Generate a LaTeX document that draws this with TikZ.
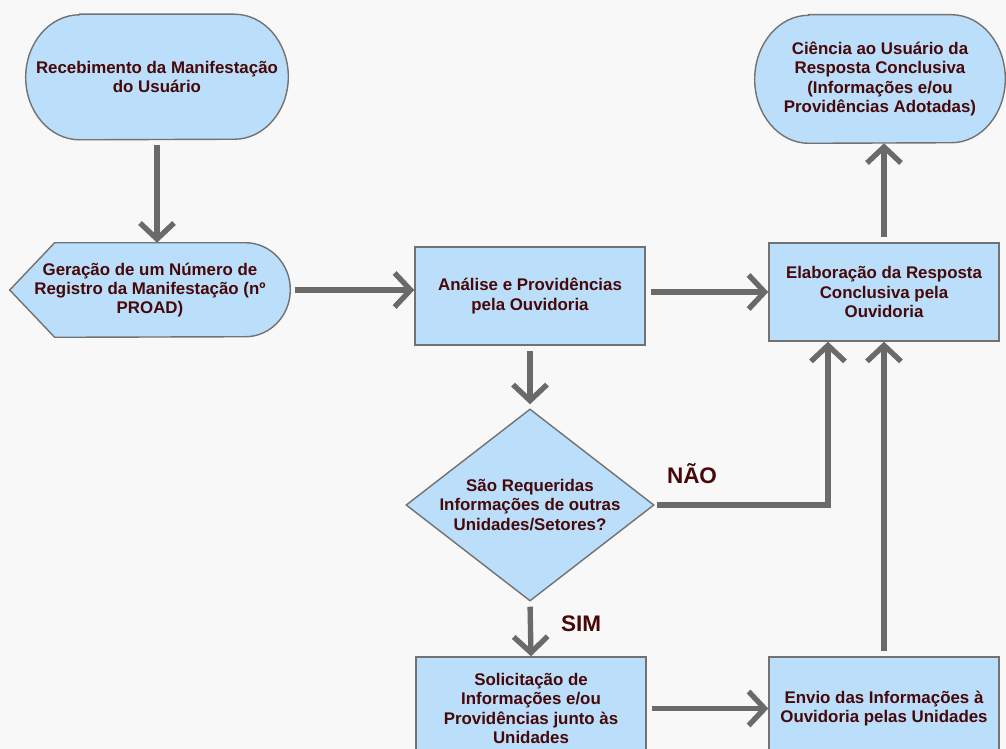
\documentclass[tikz,border=0pt]{standalone}
\usepackage{fontspec}
\setmainfont{Liberation Sans}
\usepackage{tikz}
\usetikzlibrary{arrows.meta,shapes.geometric,backgrounds}

\definecolor{fundo}{HTML}{F8F8F8}
\definecolor{azul}{HTML}{BBDEFB}
\definecolor{borda}{HTML}{727272}
\definecolor{cinza}{HTML}{6A6A6A}
\definecolor{texto}{RGB}{70,8,8}

\begin{document}
\begin{tikzpicture} [x = 0.025cm, y = 0.025cm,
    txt/.style = {align = center, text = texto, inner sep = 0pt,
      font = \bfseries\fontsize{12}{13.6}\selectfont},
    caixa/.style = {txt, rectangle, draw = borda, fill = azul, line width = 1pt,
      minimum width = 5.75cm},
    forma/.style = {txt, draw = none},
    contorno/.style = {draw = borda, fill = azul, line width = 1pt},
    losango/.style = {txt, diamond, draw = borda, fill = azul, line width = 1pt,
      aspect = 1.3, minimum width = 6.2cm, minimum height = 4.8cm},
    seta/.style = {draw = cinza, line width = 3.8pt, shorten < = 0.125cm,
      -{Straight Barb[length = 0.4cm, width = 0.85cm]}},
    rotulo/.style = {text = texto, inner sep = 0pt,
      font = \bfseries\fontsize{16}{18}\selectfont}]

  \useasboundingbox (0,0) rectangle (1006,-749);
  \begin{scope}[on background layer]
    \fill[fundo] (0,0) rectangle (1006,-749);
  \end{scope}

  % nodes
  \node[forma, minimum width = 6.55cm, minimum height = 3.125cm] (inicio) at (157,-77)
    {Recebimento da Manifestação\\do Usuário};
  \node[forma, minimum width = 7cm, minimum height = 2.35cm] (registro) at (150,-290)
    {Geração de um Número de\\Registro da Manifestação (nº\\PROAD)};
  \node[caixa, minimum height = 2.45cm] (analise) at (530,-296)
    {Análise e Providências\\pela Ouvidoria};
  \node[caixa, minimum height = 2.45cm] (elaboracao) at (884,-292)
    {Elaboração da Resposta\\Conclusiva pela\\Ouvidoria};
  \node[forma, minimum width = 6.25cm, minimum height = 3.2cm] (ciencia) at (880,-79)
    {Ciência ao Usuário da\\Resposta Conclusiva\\(Informações e/ou\\Providências Adotadas)};
  \node[losango] (decisao) at (530,-505)
    {São Requeridas\\Informações de outras\\Unidades/Setores?};
  \node[caixa, minimum height = 2.575cm] (solicitacao) at (531,-708.5)
    {Solicitação de\\Informações e/ou\\Providências junto às\\Unidades};
  \node[caixa, minimum height = 2.575cm] (envio) at (884,-708.5)
    {Envio das Informações à\\Ouvidoria pelas Unidades};
  \node[rotulo] (nao) at (692,-474) {NÃO};
  \node[rotulo] (sim) at (581,-624) {SIM};

  % outlines of the terminals and the display shape
  \begin{scope}[on background layer]
    \foreach \n/\r in {inicio/1.5625cm, ciencia/1.6cm}
      \draw[contorno] ([xshift = 1.35cm]\n.north west) -- ([xshift = -1.35cm]\n.north east)
        arc[start angle = 90, end angle = -90, x radius = 1.35cm, y radius = \r]
        -- ([xshift = 1.35cm]\n.south west)
        arc[start angle = 270, end angle = 90, x radius = 1.35cm, y radius = \r] -- cycle;
    \draw[contorno] (registro.west) -- ([xshift = 1.125cm]registro.north west)
      -- ([xshift = -1.125cm]registro.north east)
      arc[start angle = 90, end angle = -90, x radius = 1.125cm, y radius = 1.175cm]
      -- ([xshift = 1.125cm]registro.south west) -- cycle;
  \end{scope}

  % connectors
  \draw[seta] (inicio.south) -- (inicio.south |- registro.north);
  \draw[seta] (registro.east) -- (registro.east -| analise.west);
  \draw[seta] (elaboracao.west -| analise.east) -- (elaboracao.west);
  \draw[seta] (elaboracao.north) -- (elaboracao.north |- ciencia.south);
  \draw[seta, shorten > = 0.1cm] (analise.south) -- (decisao.north);
  \draw[seta] (decisao.south) -- (solicitacao.north);
  \draw[seta, shorten < = 0.05cm] (decisao.east) -| ([xshift = -1.4cm]elaboracao.south);
  \draw[seta] (solicitacao.east) -- (envio.west);
  \draw[seta] (envio.north) -- (elaboracao.south);
\end{tikzpicture}
\end{document}
